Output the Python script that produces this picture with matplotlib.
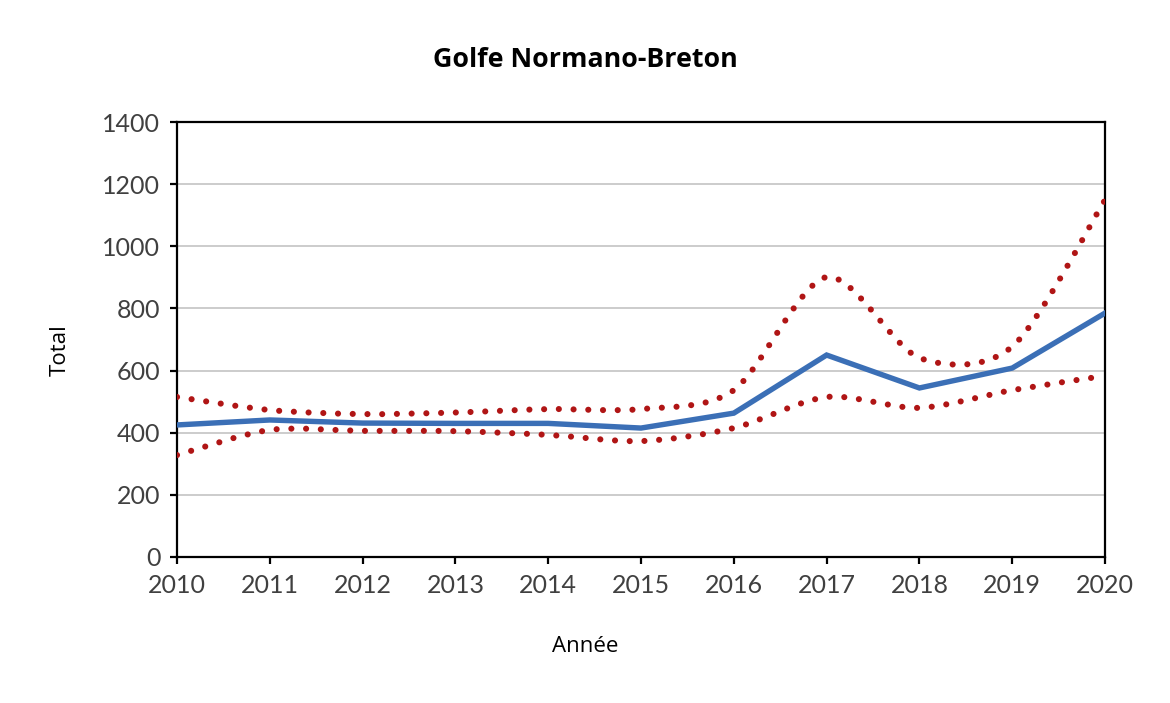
import matplotlib
matplotlib.use("Agg")
import matplotlib.pyplot as plt
from matplotlib.path import Path
from matplotlib.patches import PathPatch
import numpy as np

years = [2010, 2011, 2012, 2013, 2014, 2015, 2016, 2017, 2018, 2019, 2020]
total = [425, 441, 431, 430, 430, 415, 463, 650, 544, 608, 785]
upper = [515, 473, 460, 465, 476, 476, 537, 901, 641, 677, 1149]
lower = [328, 409, 406, 405, 393, 373, 415, 515, 480, 537, 583]
yticks = [0, 200, 400, 600, 800, 1000, 1200, 1400]

title = "Golfe Normano-Breton"
xlabel = "Année"
ylabel = "Total"

fig = plt.figure(figsize=(11.7, 7.03), dpi=100)
ax = fig.add_axes([177/1170, 1 - 557/703, (1105-177)/1170, (557-122)/703])

def smooth_path(xs, ys):
    pts = np.column_stack([xs, ys]).astype(float)
    n = len(pts)
    verts = [pts[0]]
    codes = [Path.MOVETO]
    for i in range(n - 1):
        p0 = pts[i - 1] if i > 0 else pts[i]
        p1 = pts[i]
        p2 = pts[i + 1]
        p3 = pts[i + 2] if i + 2 < n else pts[i + 1]
        c1 = p1 + (p2 - p0) / 7.0
        c2 = p2 - (p3 - p1) / 7.0
        verts += [c1, c2, p2]
        codes += [Path.CURVE4] * 3
    return Path(verts, codes)

red = "#B01515"
for series in (upper, lower):
    patch = PathPatch(smooth_path(years, series), facecolor="none", edgecolor=red,
                      lw=4.4, linestyle=(0, (0.01, 2.4)), capstyle="round", zorder=3)
    ax.add_patch(patch)

ax.plot(years, total, color="#3B6FB6", lw=3.9, zorder=4, solid_joinstyle="miter")

ax.set_xlim(2010, 2020)
ax.set_ylim(0, 1400)
ax.set_xticks(years)
ax.set_yticks(yticks)
ax.yaxis.grid(True, color="#C8C8C8", lw=1.3)
ax.set_axisbelow(True)
for s in ax.spines.values():
    s.set_color("black")
    s.set_linewidth(1.6)

tickfont = "Lato"
ax.tick_params(axis="both", direction="out", length=5, width=1.6, colors="black",
               labelcolor="#404040", labelsize=18)
ax.tick_params(axis="x", pad=7)
ax.tick_params(axis="y", pad=7)
for lab in ax.get_xticklabels() + ax.get_yticklabels():
    lab.set_fontfamily(tickfont)

fig.text(585/1170, 1 - 60/703, title, ha="center", va="center",
         fontsize=19.3, fontweight="bold", family="Open Sans")
fig.text(585/1170, 1 - 647/703, xlabel, ha="center", va="center",
         fontsize=16, family="Open Sans")
fig.text(60/1170, 1 - 350/703, ylabel, ha="center", va="center", rotation=90,
         fontsize=16, family="Open Sans")

fig.savefig("out.png", dpi=100, facecolor="white")
